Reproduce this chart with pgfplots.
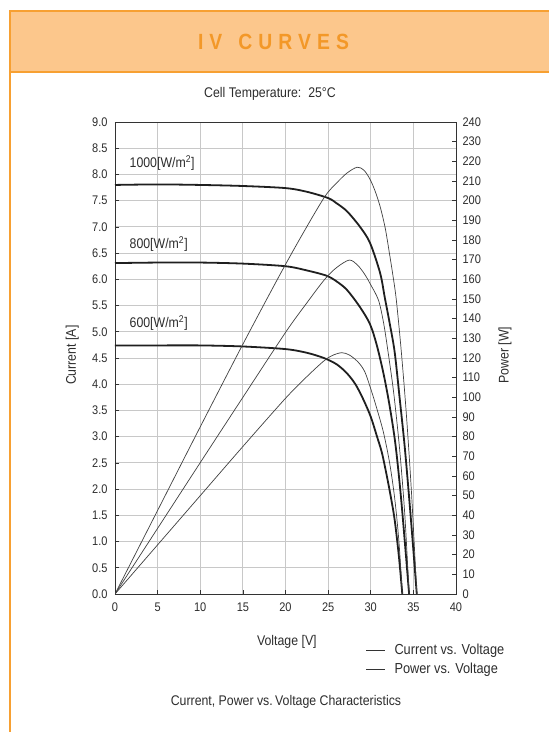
\documentclass[border=0pt]{standalone}
\usepackage{pgfplots}
\pgfplotsset{compat=1.18}
\usepackage{fontspec}
\setmainfont{Liberation Sans}[FakeStretch=0.88]
\definecolor{hdrfill}{RGB}{252,199,140}
\definecolor{hdrline}{RGB}{247,160,50}
\definecolor{hdrtext}{RGB}{243,152,40}
\definecolor{gridc}{RGB}{200,200,200}
\definecolor{txt}{RGB}{45,45,45}

\begin{document}
\begin{tikzpicture}[x=1pt,y=1pt]
\path[use as bounding box] (0,0) rectangle (549,732);
\fill[white] (0,0) rectangle (549,732);
\fill[hdrfill] (10,660) rectangle (549,721);
\draw[hdrline, line width=1.5] (549,721) -- (10,721) -- (10,0);
\draw[hdrline, line width=1.2] (10,660) -- (549,660);
\node[hdrtext, font=\fontsize{22}{22}\selectfont\bfseries] at (273.5,690)
  {I\hspace{6pt}V\hspace{16pt}C\hspace{6pt}U\hspace{6pt}R\hspace{6pt}V\hspace{6pt}E\hspace{6pt}S};
\node[txt, font=\fontsize{14}{16}\selectfont] at (270,638) {Cell Temperature:\ \ 25°C};
\node[txt, font=\fontsize{14}{16}\selectfont] at (286,30) {Current, Power vs.\,Voltage Characteristics};

% current axis
\begin{axis}[
  at={(115pt,138pt)}, anchor=south west, scale only axis,
  width=341pt, height=472pt,
  xmin=0, xmax=40, ymin=0, ymax=9,
  xtick={0,5,...,40}, ytick={0,0.5,...,9},
  xtick pos=bottom, ytick pos=left, tick align=inside,
  major tick length=4pt,
  grid=major, major grid style={gridc, line width=0.8pt},
  axis line style={black!80, line width=0.8pt},
  tick style={black!80, line width=0.6pt},
  /pgf/number format/assume math mode=true,
  ticklabel style={txt, font=\fontsize{12.5}{14}\selectfont},
  yticklabel style={/pgf/number format/fixed, /pgf/number format/fixed zerofill, /pgf/number format/precision=1, xshift=-4pt},
  xticklabel style={yshift=-5pt},
  xlabel={Voltage [V]}, ylabel={Current [A]},
  label style={txt, font=\fontsize{14}{16}\selectfont},
  xlabel style={at={(axis description cs:0.504,-0.1017)}, anchor=center},
  ylabel style={at={(axis description cs:-0.125,0.506)}, anchor=center},
]
\addplot[black!88, line width=1.8pt, smooth] coordinates {
 (0,7.80) (5,7.81) (10,7.80) (15,7.78) (20,7.74) (22.5,7.67) (25,7.55) (26,7.45)
 (27.2,7.30) (28.7,7.01) (29.9,6.70) (31.1,6.12) (31.65,5.65) (32.2,5.18) (32.8,4.62)
 (33.4,3.72) (34.0,2.78) (34.7,1.45) (35.4,0)};
\addplot[black!88, line width=1.8pt, smooth] coordinates {
 (0,6.31) (5,6.32) (10,6.32) (15,6.30) (20,6.25) (22.5,6.17) (24.8,6.07) (26,5.96)
 (27.2,5.80) (28.7,5.48) (29.9,5.15) (30.7,4.75) (31.5,4.20) (32.2,3.60) (32.9,2.85)
 (33.6,1.75) (34.5,0)};
\addplot[black!88, line width=1.8pt, smooth] coordinates {
 (0,4.74) (5,4.74) (10,4.74) (15,4.72) (20,4.67) (22.5,4.60) (24.5,4.50) (26,4.38)
 (27.2,4.21) (28.2,4.00) (29.1,3.72) (30,3.38) (30.7,3.02) (31.3,2.70) (31.8,2.32)
 (32.3,1.90) (32.8,1.42) (33.3,0.72) (33.7,0)};
\node[txt, anchor=west, font=\fontsize{14}{16}\selectfont, inner sep=0pt] at (axis cs:1.7,8.22) {1000[W/m\textsuperscript{2}]};
\node[txt, anchor=west, font=\fontsize{14}{16}\selectfont, inner sep=0pt] at (axis cs:1.7,6.68) {800[W/m\textsuperscript{2}]};
\node[txt, anchor=west, font=\fontsize{14}{16}\selectfont, inner sep=0pt] at (axis cs:1.7,5.17) {600[W/m\textsuperscript{2}]};
\end{axis}

% power axis
\begin{axis}[
  at={(115pt,138pt)}, anchor=south west, scale only axis,
  width=341pt, height=472pt,
  xmin=0, xmax=40, ymin=0, ymax=240,
  axis x line=none, axis y line*=right,
  ytick={0,10,...,240}, tick align=inside, major tick length=4pt,
  axis line style={black!80, line width=0.8pt},
  tick style={black!80, line width=0.6pt},
  /pgf/number format/assume math mode=true,
  ticklabel style={txt, font=\fontsize{12.5}{14}\selectfont},
  yticklabel style={xshift=3pt},
  ylabel={Power [W]},
  label style={txt, font=\fontsize{14}{16}\selectfont},
  ylabel style={at={(axis description cs:1.144,0.506)}, anchor=center},
  legend style={at={(0.735,-0.101)}, anchor=north west, draw=none, fill=none,
    font=\fontsize{14.5}{16}\selectfont, text=txt, inner sep=0pt, row sep=3pt,
    column sep=7pt, legend cell align=left},
  legend image code/.code={\draw[#1] (0pt,0pt) -- (19pt,0pt);},
]
\addplot[black!75, line width=0.7pt, smooth, forget plot] coordinates {
 (0,0) (5,42.5) (10,85) (15,127) (19.3,162) (22,183) (24.6,202) (26,209) (27.2,214)
 (28.4,217) (29.2,215.5) (29.9,211) (30.5,205) (31.1,197) (31.7,186) (32.2,173)
 (32.6,162) (33.0,149.5) (33.6,122.5) (34.2,90) (34.8,50) (35.4,0)};
\addplot[black!75, line width=0.7pt, smooth, forget plot] coordinates {
 (0,0) (5,33.4) (10,66.8) (15,100) (20,133) (22.5,148) (24.6,160) (26,166)
 (27.5,169.8) (28.5,167) (29.3,162.5) (29.9,158) (30.9,149.5) (31.5,138) (32.0,124)
 (32.7,102) (33.4,73) (34.0,40) (34.5,0)};
\addplot[black!75, line width=0.7pt, smooth, forget plot] coordinates {
 (0,0) (5,25) (10,50) (15,75) (20,99.5) (22.5,110.5) (24.5,118.5)
 (25.5,121.3) (26.6,122.7) (27.5,121.5) (28.5,118) (29.3,113) (30.1,103) (30.8,93)
 (31.5,82) (32.2,67) (32.8,49) (33.3,27) (33.7,0)};
\addlegendimage{black!80, line width=0.7pt}
\addlegendentry{Current vs. Voltage}
\addlegendimage{black!80, line width=0.7pt}
\addlegendentry{Power vs. Voltage}
\end{axis}
\end{tikzpicture}
\end{document}
